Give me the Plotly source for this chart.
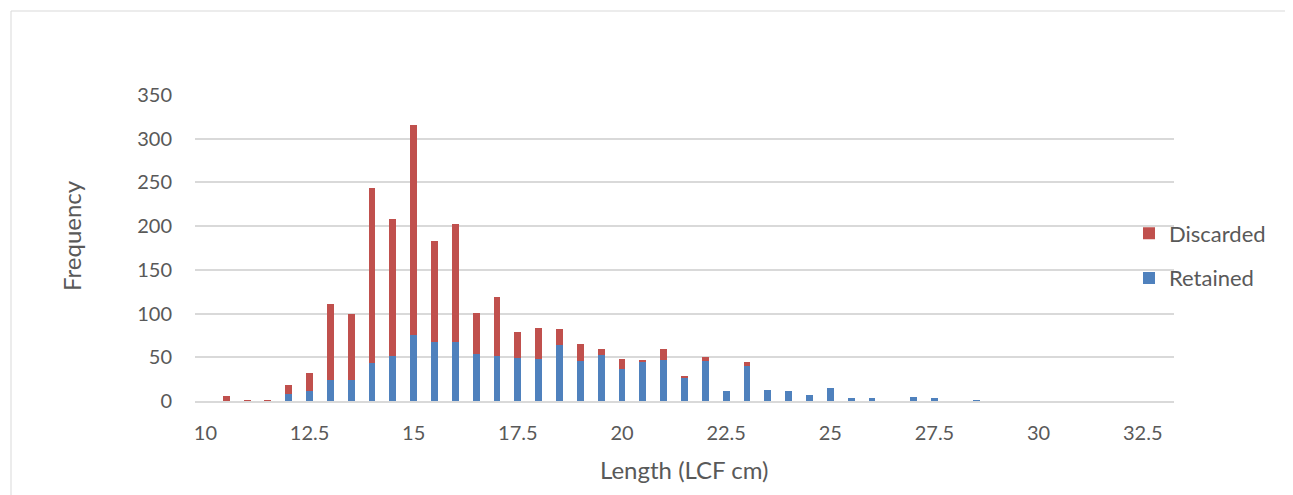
import plotly.graph_objects as go

# Data (length classes, cm LCF)
lengths = [10, 10.5, 11, 11.5, 12, 12.5, 13, 13.5, 14, 14.5, 15, 15.5, 16, 16.5, 17, 17.5,
           18, 18.5, 19, 19.5, 20, 20.5, 21, 21.5, 22, 22.5, 23, 23.5, 24, 24.5, 25, 25.5,
           26, 26.5, 27, 27.5, 28, 28.5, 29, 29.5, 30, 30.5, 31, 31.5, 32, 32.5, 33]
retained = [0, 0, 0, 0, 8, 11, 24, 24, 43, 52, 76, 67, 67, 54, 52, 49,
            48, 64, 46, 53, 37, 45, 47, 26, 46, 11, 40, 13, 12, 7, 15, 4,
            3, 0, 5, 4, 0, 1, 0, 0, 0, 0, 0, 0, 0, 0, 0]
discarded = [0, 6, 1, 1, 10, 21, 87, 76, 201, 156, 240, 116, 136, 47, 67, 30,
             35, 18, 19, 6, 11, 2, 12, 3, 4, 0, 5, 0, 0, 0, 0, 0,
             0, 0, 0, 0, 0, 0, 0, 0, 0, 0, 0, 0, 0, 0, 0]
x_ticks = [10, 12.5, 15, 17.5, 20, 22.5, 25, 27.5, 30, 32.5]
y_ticks = [0, 50, 100, 150, 200, 250, 300, 350]

FONT = "Lato, Open Sans, sans-serif"
TXT = "#595959"
GRID = "#D9D9D9"

OFF = 8  # page body margin
W, H = 1293 - OFF, 495 - OFF
# plot area in reference page pixel coordinates
L, R, T, B = 195, 1174, 95, 401


def px(x):
    return (x - L) / (R - L)


def py(y):
    return (B - y) / (B - T)


fig = go.Figure()
fig.add_trace(go.Bar(x=lengths, y=retained, name="Retained", width=0.165,
                     marker=dict(color="#4F81BD", line=dict(width=0)),
                     legendgroup="r", legendrank=2))
fig.add_trace(go.Bar(x=lengths, y=discarded, name="Discarded", width=0.165,
                     marker=dict(color="#C0504D", line=dict(width=0)),
                     legendgroup="d", legendrank=1))

shapes = [
    dict(type="rect", xref="paper", yref="paper", x0=px(11), x1=px(1290), y0=py(520), y1=py(11),
         line=dict(color="#D9D9D9", width=1), layer="below"),
]

annotations = [
    dict(text="Frequency", xref="paper", yref="paper", x=px(71), y=py(235), textangle=-90,
         showarrow=False, font=dict(family=FONT, size=24, color=TXT), xanchor="center", yanchor="middle"),
    dict(text="Length (LCF cm)", xref="paper", yref="paper", x=px(684), y=py(469),
         showarrow=False, font=dict(family=FONT, size=24, color=TXT), xanchor="center", yanchor="middle"),
]

fig.update_layout(
    width=W, height=H,
    margin=dict(l=L - OFF, r=W - (R - OFF), t=T - OFF, b=H - (B - OFF), autoexpand=False),
    paper_bgcolor="white", plot_bgcolor="white",
    barmode="stack",
    font=dict(family=FONT, size=20, color=TXT),
    showlegend=True,
    legend=dict(x=px(1129), y=py(256), xanchor="left", yanchor="middle",
                traceorder="grouped", tracegroupgap=13,
                font=dict(family=FONT, size=22, color=TXT), bgcolor="rgba(0,0,0,0)"),
    shapes=shapes,
    annotations=annotations,
)
fig.update_xaxes(range=[9.75, 33.25], tickvals=x_ticks, ticktext=[f"{v:g}" for v in x_ticks],
                 showgrid=False, zeroline=False, showline=True, linecolor=GRID, linewidth=2,
                 ticks="outside", ticklen=13, tickcolor="rgba(0,0,0,0)",
                 tickfont=dict(family=FONT, size=20, color=TXT))
fig.update_yaxes(range=[0, 350], tickvals=y_ticks, showgrid=True, gridcolor=GRID, gridwidth=1.5,
                 zeroline=False, showline=False,
                 ticks="outside", ticklen=18, tickcolor="rgba(0,0,0,0)",
                 tickfont=dict(family=FONT, size=20, color=TXT))

fig.write_html("out.html")
